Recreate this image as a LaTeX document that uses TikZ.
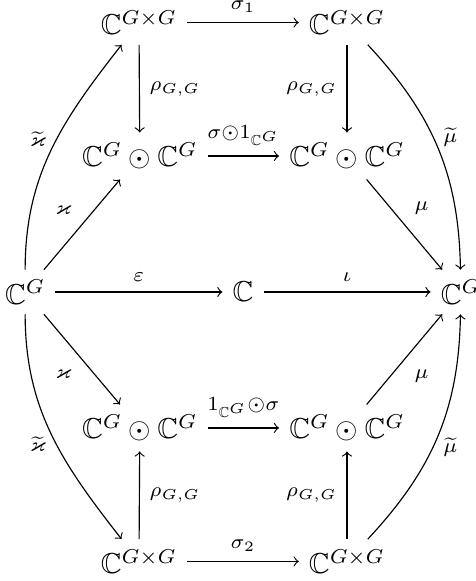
\documentclass[tikz,border=0pt]{standalone}
\usepackage{amssymb}
\begin{document}
\begin{tikzpicture}[scale=1]
\useasboundingbox (-2.967,-3.529) rectangle (2.833,3.565);
\node (a1) at (-2.66,0) {$\mathbb{C}^G$};
\node (a2) at (0,0) {$\mathbb{C}$};
\node (a3) at (2.66,0) {$\mathbb{C}^G$};
\node (t1) at (-1.27,3.29) {$\mathbb{C}^{G\times G}$};
\node (t2) at (1.27,3.29) {$\mathbb{C}^{G\times G}$};
\node (u1) at (-1.26,1.66) {$\mathbb{C}^G\odot\mathbb{C}^G$};
\node (u2) at (1.27,1.66) {$\mathbb{C}^G\odot\mathbb{C}^G$};
\node (d1) at (-1.26,-1.66) {$\mathbb{C}^G\odot\mathbb{C}^G$};
\node (d2) at (1.27,-1.66) {$\mathbb{C}^G\odot\mathbb{C}^G$};
\node (b1) at (-1.27,-3.29) {$\mathbb{C}^{G\times G}$};
\node (b2) at (1.27,-3.29) {$\mathbb{C}^{G\times G}$};
\draw[->] (t1) -- node[above] {$\scriptstyle\sigma_1$} (t2);
\draw[->] (t1) -- node[right] {$\scriptstyle\rho_{G,G}$} (u1);
\draw[->] (t2) -- node[left] {$\scriptstyle\rho_{G,G}$} (u2);
\draw[->] (u1) -- node[above] {$\scriptstyle\sigma\odot 1_{\mathbb{C}^G}$} (u2);
\draw[->] (a1) -- node[above left] {$\scriptstyle\varkappa$} (u1);
\draw[->] (u2) -- node[above right] {$\scriptstyle\mu$} (a3);
\draw[->] (a1) -- node[above] {$\scriptstyle\varepsilon$} (a2);
\draw[->] (a2) -- node[above] {$\scriptstyle\iota$} (a3);
\draw[->] (a1) -- node[below left] {$\scriptstyle\varkappa$} (d1);
\draw[->] (d2) -- node[below right] {$\scriptstyle\mu$} (a3);
\draw[->] (d1) -- node[above] {$\scriptstyle 1_{\mathbb{C}^G}\odot\sigma$} (d2);
\draw[->] (b1) -- node[right] {$\scriptstyle\rho_{G,G}$} (d1);
\draw[->] (b2) -- node[left] {$\scriptstyle\rho_{G,G}$} (d2);
\draw[->] (b1) -- node[above] {$\scriptstyle\sigma_2$} (b2);
\draw[->] (a1) to[out=90,in=-128] node[pos=.55,left] {$\scriptstyle\widetilde{\varkappa}$} (t1);
\draw[->] (t2) to[out=-47,in=91] node[pos=.45,right] {$\scriptstyle\widetilde{\mu}$} (a3);
\draw[->] (a1) to[out=-90,in=128] node[pos=.55,left] {$\scriptstyle\widetilde{\varkappa}$} (b1);
\draw[->] (b2) to[out=47,in=-91] node[pos=.45,right] {$\scriptstyle\widetilde{\mu}$} (a3);
\end{tikzpicture}
\end{document}
